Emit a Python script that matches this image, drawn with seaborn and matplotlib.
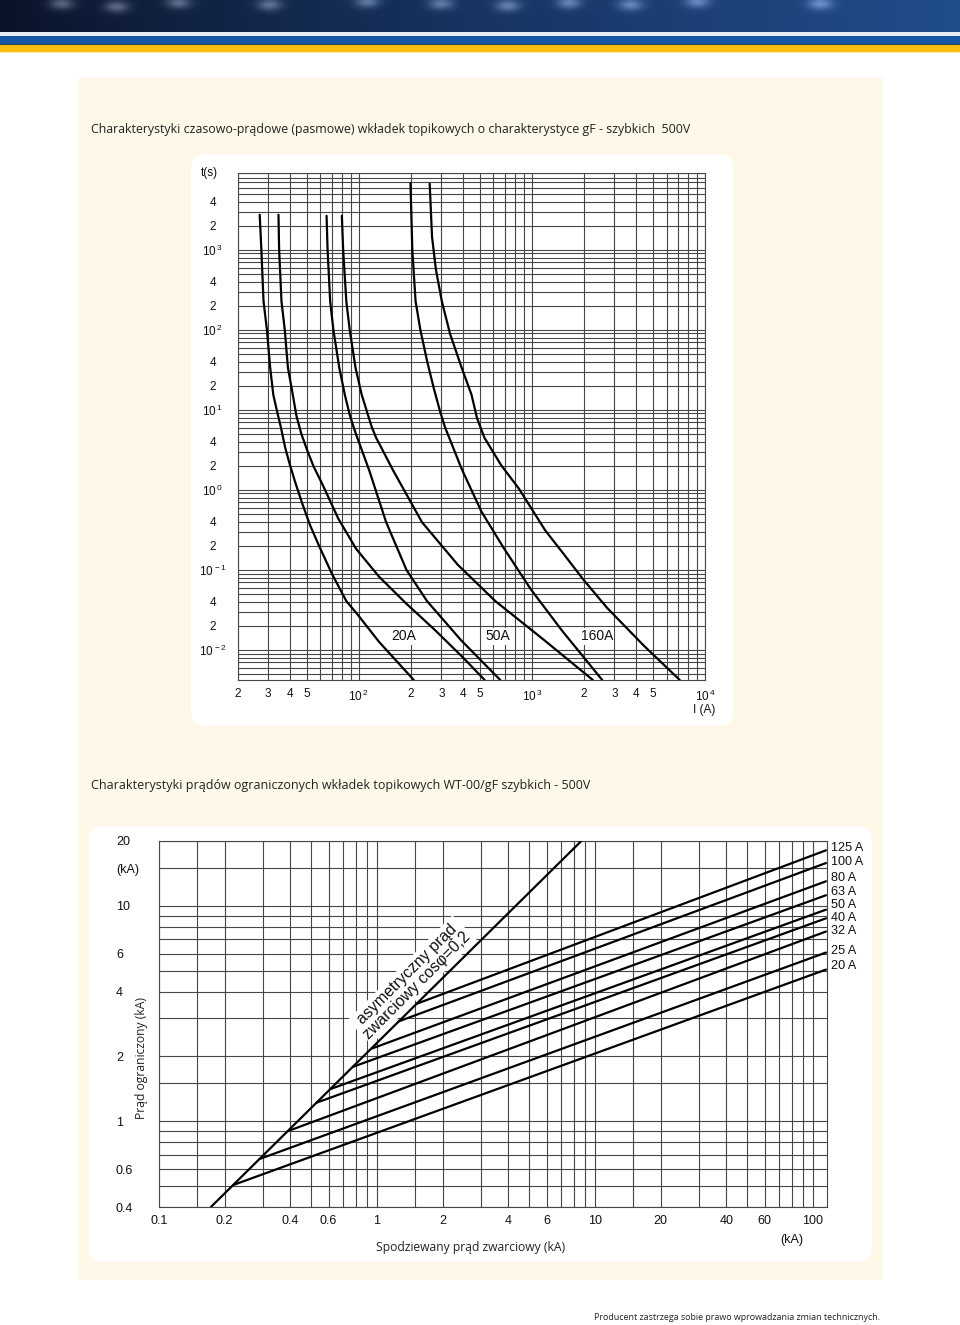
import numpy as np
import pandas as pd
import matplotlib
matplotlib.use("Agg")
import matplotlib.pyplot as plt
import seaborn as sns
from matplotlib.patches import FancyBboxPatch, Rectangle
from matplotlib.ticker import FixedLocator, FixedFormatter, NullFormatter

# ---------------- data: top chart (time-current characteristics) ----------------
i_20a_min = [26.8, 27.4, 28.2, 29.5, 30.8, 32.1, 33.6, 35.5, 37.6, 39.9, 43.1, 47.4, 52.3, 58.8, 70.0, 84.8, 98.7, 131, 208]
t_20a_min = [2740, 1000, 227, 100, 33.7, 15.5, 10.0, 6.07, 3.38, 2.11, 1.22, 0.657, 0.363, 0.203, 0.0894, 0.0407, 0.0275, 0.0126, 0.0042]

i_20a_max = [34.4, 34.7, 35.8, 37.4, 39.0, 41.6, 43.7, 46.6, 50.5, 55.1, 61.4, 76.2, 96.6, 131, 186, 277, 403, 534]
t_20a_max = [2740, 1000, 227, 100, 33.7, 15.5, 8.37, 5.02, 3.08, 1.92, 1.20, 0.437, 0.183, 0.0822, 0.0388, 0.0175, 0.0079, 0.0042]

i_50a_min = [65.2, 66.1, 68.4, 71.4, 77.2, 83.1, 88.7, 93.7, 98.1, 115, 144, 189, 248, 390, 657]
t_50a_min = [2660, 1000, 227, 100, 33.7, 15.5, 8.68, 5.96, 4.49, 1.75, 0.394, 0.0992, 0.0407, 0.0132, 0.0042]

i_50a_max = [79.9, 81.3, 84.8, 88.7, 95.8, 104, 113, 119, 126, 158, 232, 373, 615, 1180, 2250]
t_50a_max = [2660, 1000, 227, 100, 33.7, 15.5, 8.68, 6.07, 4.49, 1.75, 0.394, 0.116, 0.0407, 0.0132, 0.0042]

i_160a_min = [199, 204, 213, 227, 248, 271, 295, 315, 333, 393, 511, 683, 987, 1490, 2550]
t_160a_min = [6800, 1000, 227, 100, 41.0, 18.8, 9.56, 6.07, 4.49, 1.83, 0.536, 0.192, 0.0570, 0.0175, 0.0042]

i_160a_max = [257, 265, 279, 302, 337, 393, 448, 482, 532, 665, 843, 1195, 1509, 1984, 2719, 4394, 7149]
t_160a_max = [6700, 1466, 572, 227, 89.0, 33.7, 15.5, 7.91, 4.49, 2.03, 1.03, 0.311, 0.163, 0.0755, 0.0335, 0.0115, 0.0042]

top_labels = ["20A", "50A", "160A"]
top_label_i = [181, 640, 2371]
top_label_t = [0.0148, 0.0148, 0.0148]

top_x_major = [20, 30, 40, 50, 100, 200, 300, 400, 500, 1000, 2000, 3000, 4000, 5000, 10000]
top_x_labels = ["2", "3", "4", "5", r"$\mathregular{10^{\,2}}$", "2", "3", "4", "5",
                r"$\mathregular{10^{\,3}}$", "2", "3", "4", "5", r"$\mathregular{10^{\,4}}$"]
top_x_minor = [60, 70, 80, 90, 600, 700, 800, 900, 6000, 7000, 8000, 9000]
top_y_major = [0.01, 0.02, 0.04, 0.1, 0.2, 0.4, 1, 2, 4, 10, 20, 40, 100, 200, 400, 1000, 2000, 4000]
top_y_labels = [r"$\mathregular{10^{\,-2}}$", "2", "4", r"$\mathregular{10^{\,-1}}$", "2", "4",
                r"$\mathregular{10^{\,0}}$", "2", "4", r"$\mathregular{10^{\,1}}$", "2", "4",
                r"$\mathregular{10^{\,2}}$", "2", "4", r"$\mathregular{10^{\,3}}$", "2", "4"]
top_y_minor = [0.005, 0.006, 0.007, 0.008, 0.009, 0.03, 0.05, 0.06, 0.07, 0.08, 0.09,
               0.3, 0.5, 0.6, 0.7, 0.8, 0.9, 3, 5, 6, 7, 8, 9, 30, 50, 60, 70, 80, 90,
               300, 500, 600, 700, 800, 900, 3000, 5000, 6000, 7000, 8000, 9000]

# ---------------- data: bottom chart (cut-off currents) ----------------
peak_x = [0.173, 8.66]
peak_y = [0.4, 20]

fuse_labels = ["20 A", "25 A", "32 A", "40 A", "50 A", "63 A", "80 A", "100 A", "125 A"]
fuse_start_x = [0.219, 0.289, 0.390, 0.528, 0.610, 0.776, 0.940, 1.26, 1.52]
fuse_start_y = [0.506, 0.668, 0.900, 1.22, 1.41, 1.79, 2.17, 2.91, 3.51]
fuse_end_x = [114.7, 114.7, 114.7, 114.7, 114.7, 114.7, 114.7, 114.7, 114.7]
fuse_end_y = [5.06, 6.07, 7.60, 8.75, 9.60, 11.2, 13.0, 15.8, 18.1]
fuse_label_y = [5.26, 6.19, 7.65, 8.76, 10.1, 11.6, 13.5, 15.9, 18.6]

bot_x_major = [0.1, 0.2, 0.4, 0.6, 1, 2, 4, 6, 10, 20, 40, 60, 100]
bot_x_labels = ["0.1", "0.2", "0.4", "0.6", "1", "2", "4", "6", "10", "20", "40", "60", "100"]
bot_x_minor = [0.15, 0.3, 0.5, 0.7, 0.8, 0.9, 1.5, 3, 5, 7, 8, 9, 15, 30, 50, 70, 80, 90]
bot_y_major = [0.4, 0.6, 1, 2, 4, 6, 10, 20]
bot_y_labels = ["0.4", "0.6", "1", "2", "4", "6", "10", "20"]
bot_y_minor = [0.5, 0.7, 0.8, 0.9, 1.5, 3, 5, 7, 8, 9, 15]

title_top = "Charakterystyki czasowo-prądowe (pasmowe) wkładek topikowych o charakterystyce gF - szybkich  500V"
title_bot = "Charakterystyki prądów ograniczonych wkładek topikowych WT-00/gF szybkich - 500V"
footer = "Producent zastrzega sobie prawo wprowadzania zmian technicznych."

# ---------------- style ----------------
W, H = 960, 1325
sns.set_theme(style="white")
plt.rcParams["font.family"] = ["Liberation Sans", "DejaVu Sans"]
plt.rcParams["mathtext.fontset"] = "custom"
plt.rcParams["mathtext.rm"] = "Liberation Sans"
plt.rcParams["mathtext.it"] = "Liberation Sans:italic"
plt.rcParams["mathtext.bf"] = "Liberation Sans:bold"
plt.rcParams["mathtext.sf"] = "Liberation Sans"
HUMAN = ["Open Sans", "DejaVu Sans"]
GRID = "#474747"

fig = plt.figure(figsize=(W / 100, H / 100), dpi=100)
fig.patch.set_facecolor("white")


def fx(px):
    return px / W


def fy(py):
    return 1 - py / H


# ---------------- page background ----------------
bg = fig.add_axes([0, 0, 1, 1], zorder=-5)
xs = np.linspace(0, 1, 480)
ys = np.linspace(0, 1, 16)
X, Y = np.meshgrid(xs, ys)
c0 = np.array([0.04, 0.07, 0.15])
c1 = np.array([0.13, 0.30, 0.55])
img = c0 + (c1 - c0) * (X[..., None] ** 0.8)
for sx, sy in [(61, 3), (116, 6), (178, 2), (269, 4), (367, 1), (441, 3), (508, 5),
               (569, 2), (631, 4), (698, 1), (821, 3)]:
    d = np.exp(-(((X * W - sx) / 12) ** 2 + ((Y * 32 - sy) / 6) ** 2))
    img = img + d[..., None] * 0.30
img = np.clip(img, 0, 1)
bg.imshow(img, extent=(0, W, 32, 0), aspect="auto", interpolation="bilinear", zorder=0)
bg.set_xlim(0, W)
bg.set_ylim(H, 0)
bg.axis("off")
bg.add_patch(Rectangle((0, 32), W, 4, fc="#e4edf6", ec="none"))
bg.add_patch(Rectangle((0, 36), W, 8, fc="#1556a4", ec="none"))
bg.add_patch(Rectangle((0, 44), W, 1, fc="#2c4450", ec="none"))
bg.add_patch(Rectangle((0, 45), W, 7, fc="#fbbd12", ec="none"))
bg.add_patch(Rectangle((0, 52), W, 1, fc="#fde7a0", ec="none"))
bg.add_patch(Rectangle((78, 78), 805, 1202, fc="#fdf8e7", ec="none"))
bg.add_patch(FancyBboxPatch((191, 154), 542, 572, boxstyle="round,pad=0,rounding_size=14",
                            fc="white", ec="none"))
bg.add_patch(FancyBboxPatch((89, 826), 783, 436, boxstyle="round,pad=0,rounding_size=14",
                            fc="white", ec="none"))

# ---------------- top chart ----------------
rows = []
for name, (ii, tt) in {
    "20A min": (i_20a_min, t_20a_min), "20A max": (i_20a_max, t_20a_max),
    "50A min": (i_50a_min, t_50a_min), "50A max": (i_50a_max, t_50a_max),
    "160A min": (i_160a_min, t_160a_min), "160A max": (i_160a_max, t_160a_max),
}.items():
    for k, (a, b) in enumerate(zip(ii, tt)):
        rows.append({"curve": name, "I": a, "t": b, "k": k})
df_top = pd.DataFrame(rows)

ax1 = fig.add_axes([fx(237.7), fy(680), fx(705) - fx(237.7), (680 - 172.7) / H])
ax1.set_facecolor("white")
ax1.set_xscale("log")
ax1.set_yscale("log")
sns.lineplot(data=df_top, x="I", y="t", units="curve", estimator=None, sort=False,
             color="black", linewidth=1.6, ax=ax1, legend=False, zorder=3)
ax1.set_xlim(20, 10000)
ax1.set_ylim(0.0042, 9200)
ax1.xaxis.set_major_locator(FixedLocator(top_x_major))
ax1.xaxis.set_major_formatter(FixedFormatter(top_x_labels))
ax1.xaxis.set_minor_locator(FixedLocator(top_x_minor))
ax1.xaxis.set_minor_formatter(NullFormatter())
ax1.yaxis.set_major_locator(FixedLocator(top_y_major))
ax1.yaxis.set_major_formatter(FixedFormatter(top_y_labels))
ax1.yaxis.set_minor_locator(FixedLocator(top_y_minor))
ax1.yaxis.set_minor_formatter(NullFormatter())
ax1.grid(True, which="both", color=GRID, linewidth=0.8)
ax1.set_axisbelow(True)
for s in ax1.spines.values():
    s.set_color(GRID)
    s.set_linewidth(0.8)
ax1.tick_params(which="both", length=0, labelsize=8.5, colors="#111111")
ax1.tick_params(axis="x", pad=6)
ax1.tick_params(axis="y", pad=18)
for lbl in ax1.get_yticklabels():
    lbl.set_horizontalalignment("center")
ax1.set_xlabel("")
ax1.set_ylabel("")
for lab, a, b in zip(top_labels, top_label_i, top_label_t):
    ax1.text(a, b, lab, ha="center", va="center", fontsize=10, color="#111111", zorder=2.5,
             bbox=dict(facecolor="white", edgecolor="none", pad=1.0))
fig.text(fx(201), fy(173), "t(s)", ha="left", va="center", fontsize=8.5, color="#111111")
fig.text(fx(715), fy(710), "I (A)", ha="right", va="center", fontsize=8.5, color="#111111")

# ---------------- bottom chart ----------------
rows = [{"line": "peak", "x": peak_x[0], "y": peak_y[0]},
        {"line": "peak", "x": peak_x[1], "y": peak_y[1]}]
for lab, x0, y0, x1, y1 in zip(fuse_labels, fuse_start_x, fuse_start_y, fuse_end_x, fuse_end_y):
    rows.append({"line": lab, "x": x0, "y": y0})
    rows.append({"line": lab, "x": x1, "y": y1})
df_bot = pd.DataFrame(rows)

ax2 = fig.add_axes([fx(159), fy(1207), fx(827) - fx(159), (1207 - 841) / H])
ax2.set_facecolor("white")
ax2.set_xscale("log")
ax2.set_yscale("log")
sns.lineplot(data=df_bot, x="x", y="y", units="line", estimator=None, sort=False,
             color="black", linewidth=1.6, ax=ax2, legend=False, zorder=3)
ax2.set_xlim(0.1, 116)
ax2.set_ylim(0.4, 20)
ax2.xaxis.set_major_locator(FixedLocator(bot_x_major))
ax2.xaxis.set_major_formatter(FixedFormatter(bot_x_labels))
ax2.xaxis.set_minor_locator(FixedLocator(bot_x_minor))
ax2.xaxis.set_minor_formatter(NullFormatter())
ax2.yaxis.set_major_locator(FixedLocator(bot_y_major))
ax2.yaxis.set_major_formatter(FixedFormatter(bot_y_labels))
ax2.yaxis.set_minor_locator(FixedLocator(bot_y_minor))
ax2.yaxis.set_minor_formatter(NullFormatter())
ax2.grid(True, which="both", color=GRID, linewidth=0.8)
ax2.set_axisbelow(True)
for s in ax2.spines.values():
    s.set_color(GRID)
    s.set_linewidth(0.8)
ax2.tick_params(which="both", length=0, labelsize=9, colors="#111111")
ax2.tick_params(axis="x", pad=6)
ax2.tick_params(axis="y", pad=31)
for lbl in ax2.get_yticklabels():
    lbl.set_horizontalalignment("left")
ax2.set_xlabel("")
ax2.set_ylabel("")
for lab, yl in zip(fuse_labels, fuse_label_y):
    ax2.text(121, yl, lab, ha="left", va="center", fontsize=9.1, color="#111111", clip_on=False)
ax2.text(1.447, 4.53, "asymetryczny prąd\nzwarciowy cosφ=0,2", rotation=45,
         rotation_mode="anchor", ha="center", va="center", multialignment="center",
         fontsize=11.5, linespacing=1.0, color="#111111", zorder=2.5,
         bbox=dict(facecolor="white", edgecolor="none", pad=1.5))
fig.text(fx(116), fy(870), "(kA)", ha="left", va="center", fontsize=9, color="#111111")
fig.text(fx(792), fy(1240), "(kA)", ha="center", va="center", fontsize=9, color="#111111")
fig.text(fx(141), fy(1058), "Prąd ograniczony (kA)", rotation=90, ha="center", va="center",
         fontsize=8.7, family=HUMAN, color="#222222")
fig.text(fx(471), fy(1247), "Spodziewany prąd zwarciowy (kA)", ha="center", va="center",
         fontsize=8.7, family=HUMAN, color="#222222")

# ---------------- titles ----------------
fig.text(fx(91), fy(130), title_top, ha="left", va="center", fontsize=8.88, family=HUMAN,
         color="#222222")
fig.text(fx(91), fy(785), title_bot, ha="left", va="center", fontsize=8.97, family=HUMAN,
         color="#222222")
fig.text(fx(880), fy(1317), footer, ha="right", va="center", fontsize=6.4, family=HUMAN,
         color="#222222")

fig.savefig("out.png", dpi=100, facecolor="white")
